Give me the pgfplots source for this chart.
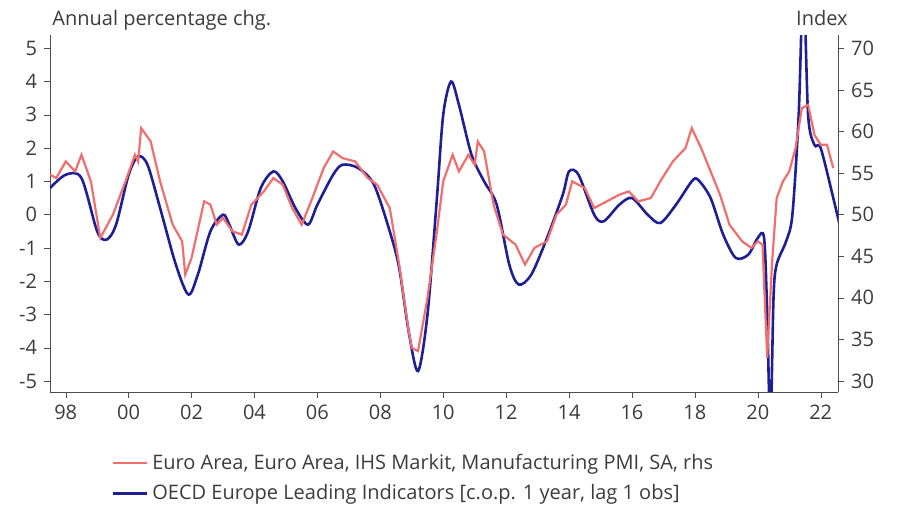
\documentclass[border=0pt]{standalone}
\usepackage{pgfplots}
\pgfplotsset{compat=1.18}
\usepackage{fontspec}
\setmainfont{Open Sans}
\definecolor{pmired}{RGB}{240,110,110}
\definecolor{oecdblue}{RGB}{30,30,150}
\definecolor{txt}{RGB}{60,60,60}
\begin{document}
\begin{tikzpicture}
\pgfplotsset{every axis/.append style={scale only axis,width=394pt,height=178.5pt,
  xmin=1997.5,xmax=2022.55, tick style={black!70}, tick align=outside,
  /pgf/number format/assume math mode=true, tick label style={font=\normalsize,text=txt},
  axis line style={black!70}, major tick length=3pt}}
\begin{axis}[axis y line*=left, axis x line*=bottom, ymin=-5.33, ymax=5.4,
  ytick={-5,...,5},
  xtick={1998,2000,...,2022}, xticklabels={98,00,02,04,06,08,10,12,14,16,18,20,22}]
\addplot[oecdblue, line width=1.3pt, smooth] coordinates {
(1997.5,0.8)(1998,1.2)(1998.5,1.1)(1999,-0.5)(1999.3,-0.75)(1999.6,-0.3)(2000,1.2)(2000.3,1.75)(2000.6,1.5)
(2001,0.2)(2001.5,-1.5)(2001.9,-2.4)(2002.2,-1.8)(2002.6,-0.5)(2003,0)(2003.2,-0.3)(2003.5,-0.9)(2003.8,-0.5)
(2004.2,0.8)(2004.6,1.3)(2004.9,1.0)(2005.3,0.2)(2005.7,-0.3)(2006.0,0.3)(2006.5,1.2)(2006.8,1.5)(2007.3,1.4)
(2007.8,0.9)(2008.3,-0.5)(2008.6,-1.6)(2008.9,-3.5)(2009.2,-4.7)(2009.5,-3.0)(2009.8,0.5)(2010.0,3.0)(2010.25,4.0)
(2010.5,3.3)(2010.9,1.8)(2011.3,1.0)(2011.7,0.3)(2012.1,-1.5)(2012.4,-2.1)(2012.8,-1.8)(2013.3,-0.7)(2013.8,0.6)
(2014.0,1.3)(2014.3,1.2)(2014.8,0)(2015.1,-0.2)(2015.6,0.3)(2016.0,0.5)(2016.5,0)(2016.9,-0.25)(2017.4,0.3)
(2017.9,1.0)(2018.1,1.05)(2018.5,0.5)(2018.9,-0.6)(2019.3,-1.3)(2019.7,-1.2)(2020.0,-0.7)(2020.2,-0.7)
(2020.3,-3.0)(2020.4,-6.5)(2020.5,-2.5)(2020.6,-1.5)(2020.9,-0.8)(2021.1,0)(2021.3,3)(2021.45,7)(2021.6,3)
(2021.8,2.1)(2022.0,2.0)(2022.4,0.5)(2022.6,-0.3)};
\end{axis}
\begin{axis}[axis y line*=right, axis x line=none, ymin=28.68, ymax=71.6,
  ytick={30,35,...,70},
  legend style={at={(0.07,-0.15)},anchor=north west,draw=none,fill=none,font=\normalsize,text=txt,row sep=2pt},
  legend cell align=left]
\addplot[pmired, line width=1.1pt] coordinates {
(1997.5,54.8)(1997.7,54.4)(1998,56.4)(1998.3,55.2)(1998.5,57.2)(1998.8,54.0)(1999.1,47.2)(1999.5,50.0)(1999.9,54.0)
(2000.2,57.2)(2000.3,56.4)(2000.4,60.4)(2000.7,58.8)(2001,54.0)(2001.4,48.8)(2001.7,46.8)(2001.8,42.8)(2002.0,44.8)
(2002.4,51.6)(2002.6,51.2)(2002.8,48.8)(2003.0,49.6)(2003.3,48.0)(2003.6,47.6)(2003.9,51.2)(2004.3,52.8)(2004.6,54.4)
(2004.9,53.6)(2005.2,50.8)(2005.5,48.8)(2005.8,51.6)(2006.2,55.6)(2006.5,57.6)(2006.8,56.8)(2007.2,56.4)(2007.6,54.4)
(2007.9,53.6)(2008.3,50.8)(2008.6,44.0)(2008.9,36.0)(2009.0,34.0)(2009.2,33.6)(2009.5,40.0)(2009.8,48.0)(2010.0,54.0)
(2010.3,57.2)(2010.5,55.2)(2010.8,57.2)(2011.0,56.0)(2011.1,58.8)(2011.3,57.6)(2011.6,51.2)(2011.9,47.6)(2012.3,46.4)
(2012.6,44.0)(2012.9,46.0)(2013.3,46.8)(2013.6,50.0)(2013.9,51.2)(2014.1,54.0)(2014.5,53.2)(2014.8,50.8)(2015.2,51.6)
(2015.6,52.4)(2015.9,52.8)(2016.2,51.6)(2016.6,52.0)(2016.9,54.0)(2017.3,56.4)(2017.7,58.0)(2017.9,60.4)(2018.2,58.0)
(2018.5,55.2)(2018.8,52.4)(2019.1,48.8)(2019.5,46.8)(2019.8,46.0)(2020.0,46.8)(2020.15,46.4)(2020.3,32.8)(2020.45,44.0)
(2020.6,52.0)(2020.8,54.0)(2021.0,55.2)(2021.2,58.0)(2021.4,62.8)(2021.6,63.2)(2021.8,59.6)(2022.0,58.4)(2022.2,58.4)(2022.4,55.6)};
\addlegendentry{Euro Area, Euro Area, IHS Markit, Manufacturing PMI, SA, rhs}
\addlegendimage{oecdblue, line width=1.3pt}
\addlegendentry{OECD Europe Leading Indicators [c.o.p. 1 year, lag 1 obs]}
\end{axis}
\node[anchor=base west,text=txt,inner sep=0pt] at (1pt,183pt) {Annual percentage chg.};
\node[anchor=base east,text=txt,inner sep=0pt] at (399pt,183pt) {Index};
\useasboundingbox (-25pt,-59pt) rectangle (425pt,196pt);
\end{tikzpicture}
\end{document}
